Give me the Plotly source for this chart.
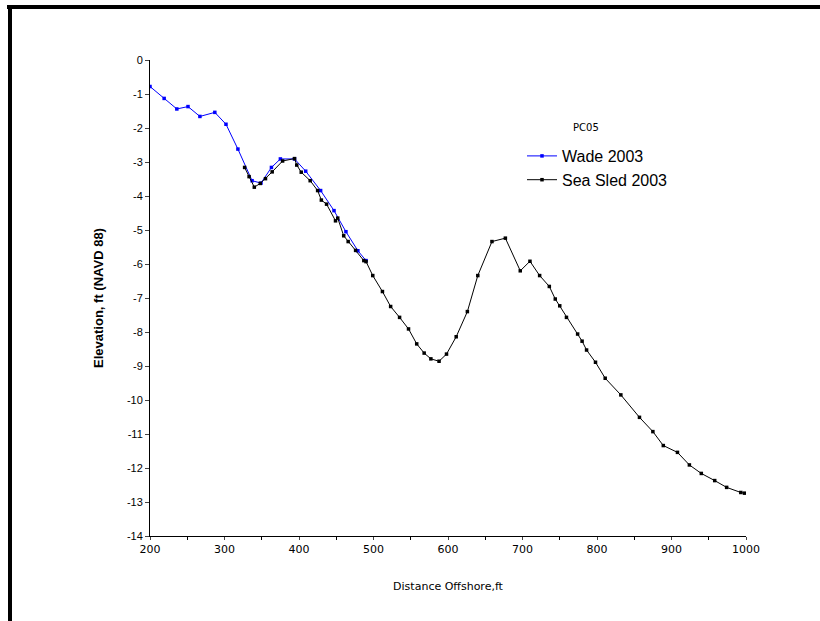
import plotly.graph_objects as go

# Wade 2003 profile
wade_x = [200, 219, 236, 251, 267, 287, 302, 318, 337, 349, 363, 375, 394, 409, 429, 447, 463, 479, 490]
wade_y = [-0.78, -1.13, -1.44, -1.37, -1.66, -1.54, -1.89, -2.62, -3.55, -3.62,
          -3.16, -2.91, -2.91, -3.27, -3.84, -4.43, -5.05, -5.61, -5.90]

# Sea Sled 2003 profile
sled_x = [327, 333, 340, 348, 355, 364, 378, 394, 397, 403,
          415, 425, 430, 437, 449, 452, 460, 466, 476, 487,
          490, 499, 512, 523, 535, 547, 558, 568, 577, 588,
          598, 611, 626, 640, 659, 677, 697, 710, 723, 736,
          744, 750, 759, 774, 780, 786, 798, 811, 832, 857,
          875, 889, 908, 924, 940, 958, 974, 993, 998]
sled_y = [-3.16, -3.43, -3.74, -3.63, -3.49, -3.29, -2.97, -2.90, -3.09, -3.30,
          -3.55, -3.84, -4.12, -4.24, -4.73, -4.65, -5.17, -5.34, -5.60, -5.90,
          -5.93, -6.34, -6.81, -7.25, -7.57, -7.91, -8.35, -8.62, -8.79, -8.86,
          -8.65, -8.14, -7.40, -6.34, -5.34, -5.24, -6.20, -5.92, -6.34, -6.66,
          -7.03, -7.23, -7.57, -8.06, -8.27, -8.53, -8.89, -9.36, -9.85, -10.51,
          -10.93, -11.34, -11.54, -11.91, -12.16, -12.37, -12.57, -12.72, -12.74]

x_ticks = [200, 300, 400, 500, 600, 700, 800, 900, 1000]
x_tick_labels = ["200", "300", "400", "500", "600", "700", "800", "900", "1000"]
y_ticks = list(range(0, -15, -1))
y_tick_labels = ["0", "-1", "-2", "-3", "-4", "-5", "-6", "-7", "-8", "-9",
                 "-10", "-11", "-12", "-13", "-14"]

W, H = 820, 621
L, R, T, B = 150, 74, 60, 85
PW, PH = W - L - R, H - T - B

def px(x):
    return (x - L) / PW

def py(y):
    return (H - B - y) / PH

fig = go.Figure()
fig.add_trace(go.Scatter(
    x=wade_x, y=wade_y, mode="lines+markers", name="Wade 2003",
    line=dict(color="#0000FF", width=1),
    marker=dict(color="#0000FF", size=3.5, symbol="square"),
))
fig.add_trace(go.Scatter(
    x=sled_x, y=sled_y, mode="lines+markers", name="Sea Sled 2003",
    line=dict(color="#000000", width=1),
    marker=dict(color="#000000", size=3.5, symbol="square"),
))

fig.update_layout(
    width=W, height=H,
    margin=dict(l=L, r=R, t=T, b=B),
    paper_bgcolor="white", plot_bgcolor="white",
    font=dict(family="Liberation Sans, Arial, sans-serif", color="black", size=11),
    showlegend=True,
    legend=dict(
        x=px(522), y=py(139), xanchor="left", yanchor="top",
        font=dict(family="Liberation Sans, Arial, sans-serif", size=16, color="black"),
        bgcolor="rgba(0,0,0,0)", borderwidth=0, tracegroupgap=0,
    ),
    xaxis=dict(
        range=[200, 1000], tickvals=x_ticks, ticktext=x_tick_labels,
        ticks="outside", ticklen=3,
        showline=True, linecolor="black", linewidth=1, showgrid=False, zeroline=False,
        tickfont=dict(family="DejaVu Sans, sans-serif", size=11),
        minor=dict(dtick=50, ticks="outside", ticklen=3, tickcolor="black", showgrid=False),
        title=dict(text="Distance Offshore,ft", standoff=27,
                   font=dict(family="DejaVu Sans, sans-serif", size=11)),
    ),
    yaxis=dict(
        range=[-14, 0], tickvals=y_ticks, ticktext=y_tick_labels,
        ticks="outside", ticklen=4,
        showline=True, linecolor="black", linewidth=1, showgrid=False, zeroline=False,
        tickfont=dict(family="Liberation Sans, Arial, sans-serif", size=11),
        title=dict(text="<b>Elevation, ft (NAVD 88)</b>", standoff=20,
                   font=dict(family="Liberation Sans, Arial, sans-serif", size=13)),
    ),
    annotations=[dict(
        text="PC05", xref="paper", yref="paper", x=px(586), y=py(127),
        xanchor="center", yanchor="middle", showarrow=False,
        font=dict(family="DejaVu Sans, sans-serif", size=10, color="black"),
    )],
    shapes=[
        dict(type="rect", xref="paper", yref="paper",
             x0=px(7), x1=px(820), y0=py(9), y1=py(5),
             fillcolor="black", line=dict(width=0)),
        dict(type="rect", xref="paper", yref="paper",
             x0=px(8), x1=px(12), y0=py(621), y1=py(5),
             fillcolor="black", line=dict(width=0)),
    ],
)

fig.write_html("out.html")
